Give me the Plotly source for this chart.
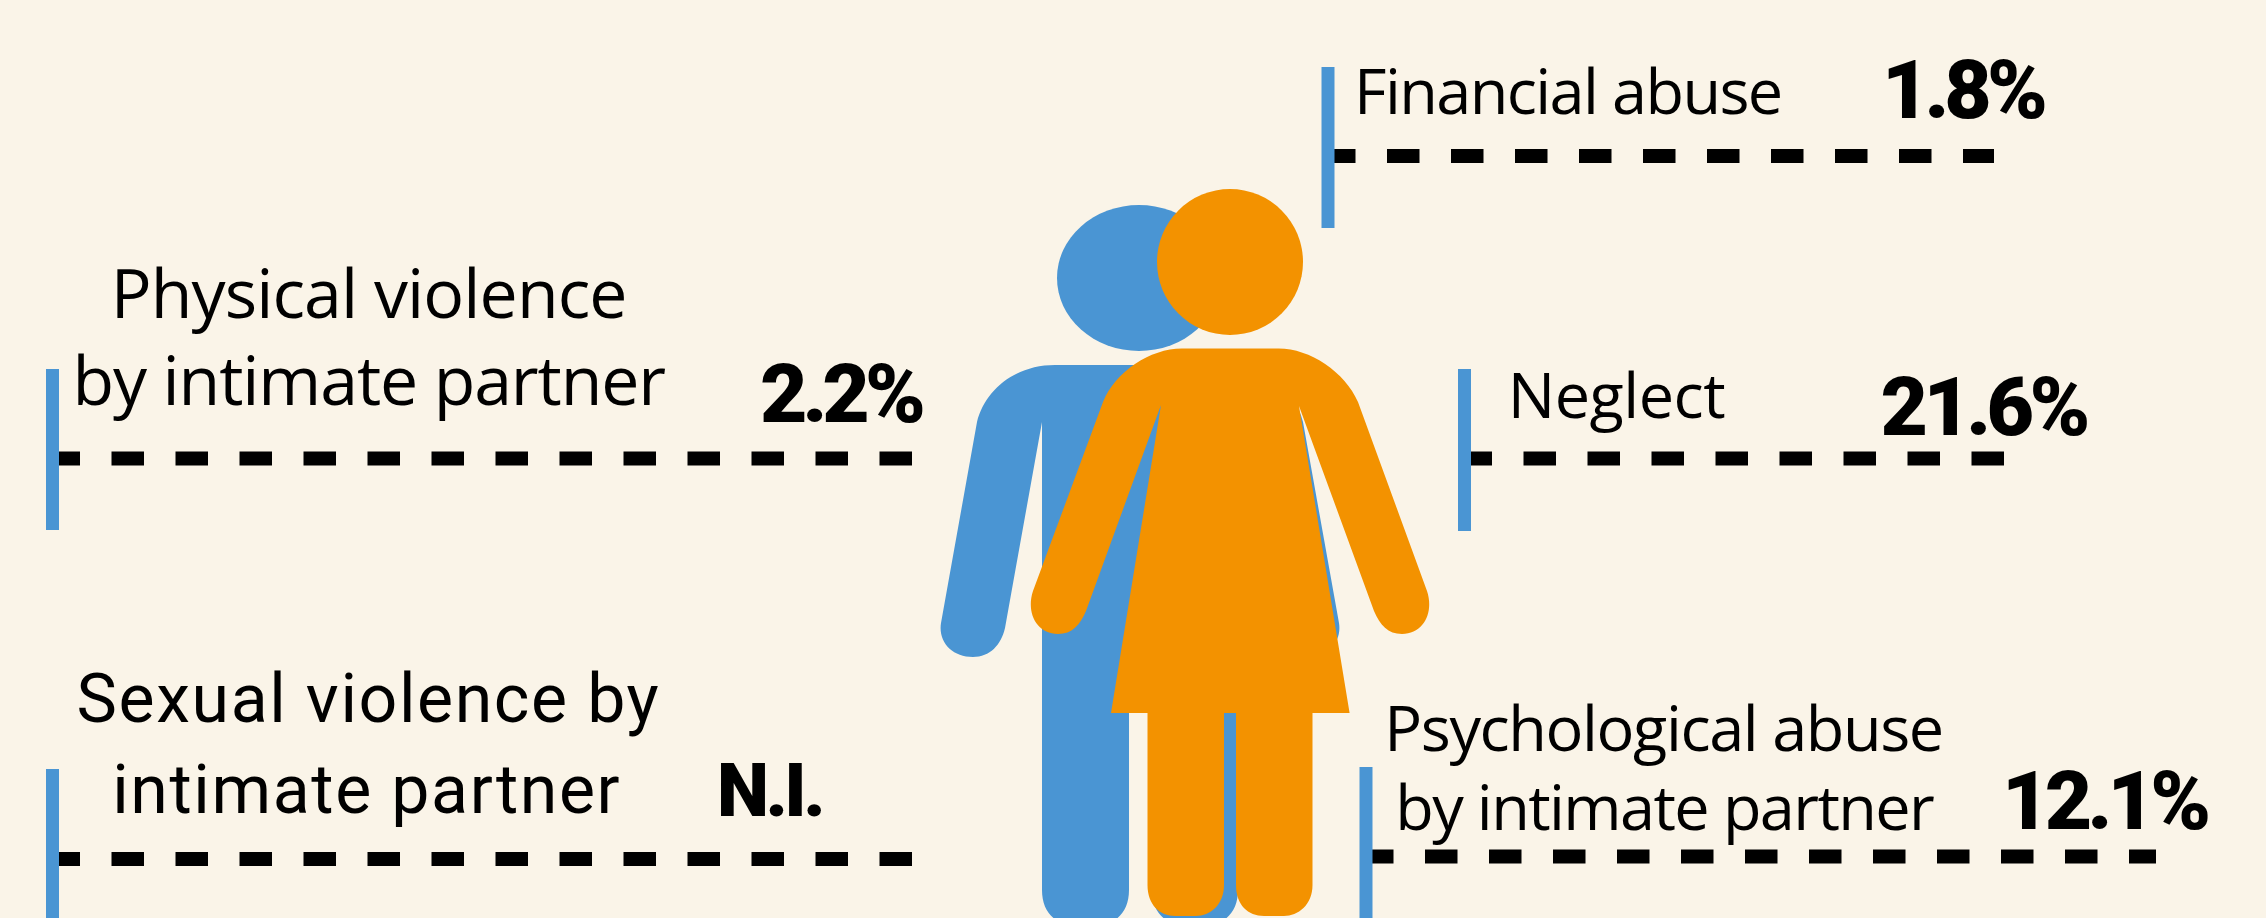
import json
import plotly.graph_objects as go

# ---- data ----
categories = [
    ["Physical violence", "by intimate partner"],
    ["Sexual violence by", "intimate partner"],
    ["Financial abuse"],
    ["Neglect"],
    ["Psychological abuse", "by intimate partner"],
]
value_labels = ["2.2%", "N.I.", "1.8%", "21.6%", "12.1%"]

# ---- styles ----
BG = "#FAF4E8"
BLUE = "#4A95D3"
ORANGE = "#F39200"
TXT = "Open Sans"
NUM = "Roboto"
DESC = {"Open Sans": 0.293, "Roboto": 0.244}

# ---- layout of each panel: bar x, bar top, bar bottom, dash y, dash end ----
panels = [
    (52.5, 369, 530, 458.5, 912),
    (52.5, 769, 930, 859, 912),
    (1328, 67, 228, 156, 1994),
    (1464.5, 369, 531, 458.5, 2004),
    (1366, 767, 930, 856.5, 2156),
]
# centre x, baseline, size, font, letter spacing for each text line
line_pos = [
    [(368, 318, 68, TXT, -0.9), (368.5, 405, 68, TXT, -1.1)],
    [(368.5, 722, 68, NUM, 1.6), (366.5, 813, 68, NUM, 1.6)],
    [(1568, 114, 63, TXT, -1.6)],
    [(1616, 418, 63, TXT, -0.5)],
    [(1663, 751, 63, TXT, -1.4), (1663.5, 830, 63, TXT, -1.6)],
]
value_pos = [
    (840, 422, 82, -5.0),
    (769, 816, 74, -3.5),
    (1962.5, 118, 82, -5),
    (1983, 435, 82, -4.6),
    (2104, 829, 82, -4.8),
]

shapes = []
annotations = []
spacings = []


def text(s, x, base, size, font, spacing, weight=400):
    annotations.append(dict(
        text=s, x=x, y=base + DESC[font] * size + 1, xref="x", yref="y",
        xanchor="center", yanchor="bottom", showarrow=False, borderpad=0,
        font=dict(family=font, size=size, color="black", weight=weight),
    ))
    spacings.append(spacing)


# figures
man = ("M 1055 365 L 1225 365 C 1265 365 1295 390 1303 422 L 1339 623 "
       "C 1342 642 1328 657 1307 657 C 1290 657 1279 645 1275 628 L 1238 422 "
       "L 1238 890 C 1238 912 1225 925 1205 925 L 1185 925 C 1165 925 1152 912 1152 890 "
       "L 1152 690 L 1129 690 L 1129 890 C 1129 912 1116 925 1096 925 L 1075 925 "
       "C 1055 925 1042 912 1042 890 L 1042 422 L 1005 628 C 1001 645 990 657 973 657 "
       "C 952 657 938 642 941 623 L 977 422 C 985 390 1015 365 1055 365 Z")
woman = ("M 1182 348.5 L 1278.6 348.5 C 1310 348.5 1345 372 1358 402 L 1427 591 "
         "C 1434 612 1424 634 1402 634 C 1388 634 1380 625 1374 611 L 1299 406 "
         "L 1349.6 713 L 1312.5 713 L 1312.5 885 C 1312.5 905 1298 916 1284 916 L 1264 916 "
         "C 1248 916 1236 905 1236 885 L 1236 713 L 1224 713 L 1224 885 C 1224 905 1210 916 1196 916 "
         "L 1175 916 C 1160 916 1147.5 905 1147.5 885 L 1147.5 713 L 1111 713 L 1161 405 "
         "L 1086 611 C 1080 625 1072 634 1058 634 C 1036 634 1026 612 1033 591 L 1103 402 "
         "C 1115 372 1150 348.5 1182 348.5 Z")
shapes.append(dict(type="circle", xref="x", yref="y", x0=1057, x1=1221, y0=205, y1=351,
                   fillcolor=BLUE, line_width=0))
shapes.append(dict(type="path", path=man, xref="x", yref="y", fillcolor=BLUE, line_width=0))
shapes.append(dict(type="circle", xref="x", yref="y", x0=1157, x1=1303, y0=189, y1=335,
                   fillcolor=ORANGE, line_width=0))
shapes.append(dict(type="path", path=woman, xref="x", yref="y", fillcolor=ORANGE, line_width=0))

# panels
for (bx, top, bot, dy, dend), lines, lpos, val, vpos in zip(
        panels, categories, line_pos, value_labels, value_pos):
    shapes.append(dict(type="line", xref="x", yref="y", x0=bx - 5, x1=dend, y0=dy, y1=dy,
                       line=dict(color="black", width=14, dash="32.5px,31.5px")))
    shapes.append(dict(type="rect", xref="x", yref="y", x0=bx - 6.5, x1=bx + 6.5, y0=top, y1=bot,
                       fillcolor=BLUE, line_width=0))
    for s, (x, b, sz, f, ls) in zip(lines, lpos):
        text(s, x, b, sz, f, ls)
    text(val, vpos[0], vpos[1], vpos[2], NUM, vpos[3], 900)

fig = go.Figure()
fig.update_layout(
    width=2266, height=918, margin=dict(l=0, r=0, t=0, b=0),
    paper_bgcolor=BG, plot_bgcolor=BG, showlegend=False,
    xaxis=dict(range=[0, 2266], visible=False, fixedrange=True),
    yaxis=dict(range=[918, 0], visible=False, fixedrange=True),
    shapes=shapes, annotations=annotations,
)
post = (
    "document.body.style.margin='0';document.documentElement.style.overflow='hidden';"
    "var sp=" + json.dumps(spacings) + ";"
    "document.querySelectorAll('.annotation-text').forEach(function(t,i){"
    "t.style.letterSpacing=sp[i]+'px';});"
)
fig.write_html("out.html", config=dict(displayModeBar=False), post_script=post)
